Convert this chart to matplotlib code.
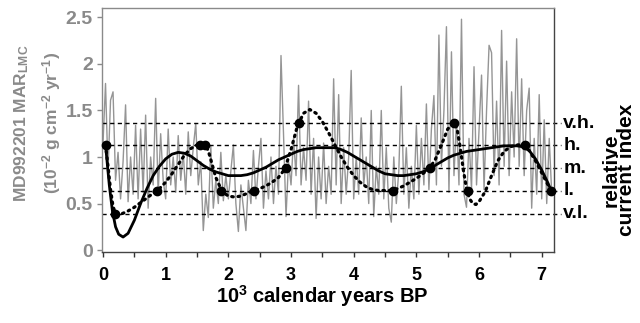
"""MD992201 mass accumulation rate with relative current index curves."""
import numpy as np
import matplotlib
matplotlib.use("Agg")
from matplotlib import pyplot as plt

plt.rcParams['font.family'] = ['Liberation Sans', 'DejaVu Sans']
plt.rcParams['font.weight'] = 'bold'
plt.rcParams['mathtext.fontset'] = 'custom'
plt.rcParams['mathtext.rm'] = 'Liberation Sans:bold'
plt.rcParams['mathtext.it'] = 'Liberation Sans:bold'
plt.rcParams['mathtext.bf'] = 'Liberation Sans:bold'
plt.rcParams['mathtext.default'] = 'rm'

###################################################################################################
# Data

# MAR record, sampled every 0.04 kyr from 0 to 7.16 kyr BP
mar_step = 0.04
mar = [
    1.15, 1.79, 0.85, 1.61, 1.70, 0.75, 1.05, 0.55, 0.95, 1.56,
    0.52, 1.00, 0.60, 1.34, 0.55, 1.30, 0.62, 1.45, 0.45, 1.00,
    0.70, 1.63, 0.60, 1.25, 0.75, 0.55, 1.30, 0.70, 1.00, 0.62,
    1.23, 0.75, 1.05, 0.60, 1.27, 0.80, 1.10, 1.36, 0.70, 0.95,
    0.21, 0.60, 0.35, 1.12, 0.45, 0.75, 0.50, 1.05, 0.53, 0.80,
    0.55, 0.85, 1.13, 0.50, 0.20, 0.70, 0.45, 0.21, 0.75, 0.50,
    1.07, 0.55, 0.90, 1.20, 0.45, 0.85, 0.55, 1.00, 0.50, 0.90,
    0.60, 2.09, 1.25, 0.36, 0.95, 0.70, 1.20, 0.80, 1.77, 0.70,
    1.10, 0.75, 1.60, 0.60, 1.20, 0.34, 1.00, 0.55, 1.15, 0.50,
    0.90, 0.60, 1.84, 0.70, 1.67, 0.50, 1.10, 0.60, 1.00, 1.93,
    0.55, 1.00, 0.60, 1.42, 0.70, 1.00, 0.50, 1.50, 0.36, 0.90,
    0.60, 1.50, 0.55, 1.10, 0.45, 0.30, 1.00, 0.50, 0.85, 1.76,
    0.60, 1.10, 0.45, 0.90, 0.55, 1.34, 0.60, 1.20, 0.70, 1.57,
    0.65, 1.30, 1.66, 0.70, 2.31, 0.90, 1.50, 2.40, 0.62, 2.13,
    0.80, 1.40, 0.70, 2.48, 0.60, 0.46, 1.20, 0.65, 1.97, 0.70,
    1.30, 1.88, 0.65, 1.50, 2.20, 2.12, 0.80, 1.60, 0.70, 2.36,
    0.90, 2.03, 0.80, 1.70, 1.00, 2.27, 0.90, 1.84, 0.80, 1.50,
    1.74, 0.45, 1.20, 0.60, 1.67, 0.55, 1.40, 0.50, 1.20, 0.60,
]

# Dotted curve (current index estimate)
dotted_age = [0.04, 0.08, 0.12, 0.16, 0.2, 0.3, 0.4, 0.5, 0.6, 0.7, 0.8, 0.9, 1.0, 1.1, 1.2, 1.3,
              1.4, 1.5, 1.6, 1.65, 1.7, 1.8, 1.9, 2.0, 2.1, 2.2, 2.3, 2.4, 2.5, 2.6, 2.7, 2.8,
              2.9, 3.0, 3.1, 3.2, 3.3, 3.4, 3.5, 3.6, 3.7, 3.8, 3.9, 4.0, 4.1, 4.2, 4.3, 4.4,
              4.5, 4.6, 4.7, 4.8, 4.9, 5.0, 5.1, 5.2, 5.3, 5.4, 5.5, 5.6, 5.65, 5.7, 5.75, 5.8,
              5.85, 5.9, 5.95, 6.0, 6.1, 6.2, 6.3, 6.4, 6.5, 6.6, 6.7, 6.8, 6.9, 7.0, 7.1, 7.15]
dotted_val = [1.13, 0.90, 0.65, 0.47, 0.39, 0.39, 0.42, 0.46, 0.51, 0.56, 0.61, 0.66, 0.73, 0.82, 0.92, 1.02,
              1.09, 1.13, 1.14, 1.12, 1.02, 0.78, 0.63, 0.58, 0.57, 0.58, 0.61, 0.64, 0.66, 0.69, 0.73, 0.78,
              0.87, 1.08, 1.33, 1.47, 1.51, 1.47, 1.38, 1.26, 1.13, 1.00, 0.89, 0.80, 0.73, 0.68, 0.65, 0.64,
              0.64, 0.64, 0.66, 0.69, 0.73, 0.77, 0.82, 0.87, 0.97, 1.13, 1.30, 1.37, 1.30, 1.10, 0.86, 0.66,
              0.55, 0.50, 0.49, 0.52, 0.63, 0.80, 0.96, 1.06, 1.11, 1.13, 1.13, 1.07, 0.96, 0.83, 0.70, 0.64]

# Solid curve (smoothed index)
solid_age = [0.04, 0.1, 0.15, 0.2, 0.25, 0.32, 0.4, 0.5, 0.6, 0.7, 0.8, 0.9, 1.0, 1.1, 1.2, 1.3,
             1.4, 1.5, 1.6, 1.7, 1.8, 1.9, 2.0, 2.1, 2.2, 2.3, 2.4, 2.5, 2.6, 2.7, 2.8, 2.9,
             3.0, 3.1, 3.2, 3.3, 3.4, 3.5, 3.6, 3.7, 3.8, 3.9, 4.0, 4.1, 4.2, 4.3, 4.4, 4.5,
             4.6, 4.7, 4.8, 4.9, 5.0, 5.1, 5.2, 5.3, 5.4, 5.5, 5.6, 5.7, 5.8, 5.9, 6.0, 6.1,
             6.2, 6.3, 6.4, 6.5, 6.6, 6.7, 6.8, 6.9, 7.0, 7.1, 7.15]
solid_val = [1.13, 0.70, 0.42, 0.25, 0.17, 0.14, 0.18, 0.32, 0.50, 0.66, 0.80, 0.90, 0.98, 1.03, 1.05, 1.04,
             1.01, 0.96, 0.91, 0.87, 0.84, 0.82, 0.80, 0.80, 0.80, 0.81, 0.83, 0.86, 0.89, 0.93, 0.97, 1.00,
             1.03, 1.06, 1.08, 1.09, 1.10, 1.10, 1.10, 1.10, 1.08, 1.05, 1.01, 0.97, 0.93, 0.89, 0.85, 0.82,
             0.81, 0.80, 0.80, 0.81, 0.82, 0.84, 0.87, 0.91, 0.95, 0.99, 1.02, 1.04, 1.06, 1.07, 1.08, 1.09,
             1.10, 1.11, 1.12, 1.12, 1.12, 1.11, 1.07, 0.98, 0.86, 0.72, 0.64]

# Index points (black dots)
dot_age = [0.04, 0.19, 0.86, 1.55, 1.63, 1.88, 2.41, 2.92, 3.12, 4.62, 5.22, 5.6, 5.82, 6.74, 7.15]
dot_val = [1.13, 0.39, 0.64, 1.13, 1.13, 0.64, 0.64, 0.88, 1.36, 0.64, 0.88, 1.36, 0.64, 1.13, 0.64]

# Relative current index classes
class_val = [1.36, 1.125, 0.88, 0.64, 0.39]
class_lab = ['v.h.', 'h.', 'm.', 'l.', 'v.l.']

###################################################################################################
# Plot

gray = '#8a8a8a'
fig = plt.figure(figsize=(6.4, 3.23), dpi=100)
ax = fig.add_axes([0.159, 0.22, 0.707, 0.755])

mar_age = np.arange(len(mar)) * mar_step
ax.plot(mar_age, mar, color='#959595', lw=1.0, zorder=1)

for v, lab in zip(class_val, class_lab):
    ax.axhline(v, xmin=0, xmax=1.015, color='black', lw=1.0, ls=(0, (3, 2.5)),
               clip_on=False, zorder=2)
    ax.text(1.02, v, lab, transform=ax.get_yaxis_transform(), ha='left', va='center',
            fontsize=14, fontweight='bold', color='black')

ax.plot(dotted_age, dotted_val, color='black', lw=2.3, ls=(0, (0.5, 1.5)),
        dash_capstyle='round', zorder=3)
ax.plot(solid_age, solid_val, color='black', lw=2.0, zorder=4)
ax.plot(dot_age, dot_val, 'o', color='black', ms=6, zorder=5, clip_on=False)

ax.set_xlim(-0.02, 7.2)
ax.set_ylim(-0.02, 2.6)
ax.set_xticks(range(8))
ax.set_xticks(np.arange(0.5, 7.5, 1.0), minor=True)
ax.set_yticks([0, 0.5, 1, 1.5, 2, 2.5])
ax.set_yticklabels(['0', '0.5', '1', '1.5', '2', '2.5'])
ax.tick_params(axis='x', which='both', direction='out', length=3.5, width=1, colors='#333333',
               labelcolor='black', labelsize=13, pad=7)
ax.tick_params(axis='y', direction='out', length=3.5, width=1, colors=gray,
               labelcolor=gray, labelsize=14, pad=3)
for lbl in ax.get_xticklabels() + ax.get_yticklabels():
    lbl.set_fontweight('bold')

ax.spines['left'].set_color(gray)
ax.spines['top'].set_color(gray)
ax.spines['bottom'].set_color('#444444')
ax.spines['right'].set_color('#444444')
for s in ax.spines.values():
    s.set_linewidth(1.0)

fig.text(0.504, 0.062, '10$^3$ calendar years BP', ha='center', va='baseline',
         fontsize=14.5, fontweight='bold')
fig.text(0.034, 0.618, 'MD992201 MAR$_{LMC}$', rotation=90, ha='center', va='center',
         fontsize=12.5, fontweight='bold', color=gray)
fig.text(0.08, 0.619, '(10$^{-2}$ g cm$^{-2}$ yr$^{-1}$)', rotation=90, ha='center', va='center',
         fontsize=12.5, fontweight='bold', color=gray)
fig.text(0.967, 0.474, 'relative\ncurrent index', rotation=90, ha='center', va='center',
         fontsize=15, fontweight='bold', linespacing=0.8)

fig.savefig('out.png', dpi=100)
